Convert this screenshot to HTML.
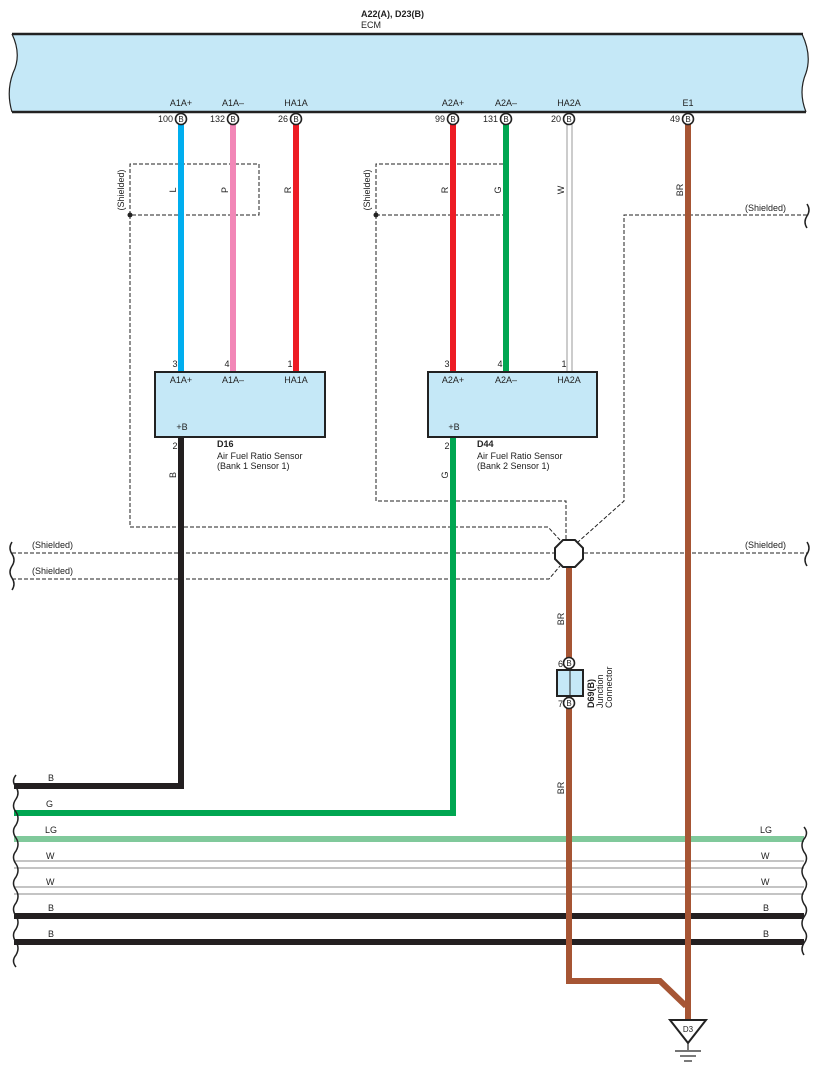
<!DOCTYPE html>
<html><head><meta charset="utf-8"><style>html,body{margin:0;padding:0;background:#fff}svg{display:block}text{font-family:"Liberation Sans",sans-serif;fill:#222}</style></head><body>
<svg width="817" height="1074" viewBox="0 0 817 1074" xmlns="http://www.w3.org/2000/svg">
<!-- ECM -->
<text x="361" y="17" font-size="9" font-weight="bold">A22(A), D23(B)</text>
<text x="361" y="28" font-size="9">ECM</text>
<path d="M12,34 L802,34 Q812,55 806,73 Q798,92 806,112 L12,112 Q6,92 13,73 Q22,55 12,34 Z" fill="#c5e8f7" stroke="none"/>
<line x1="12" y1="34" x2="803" y2="34" stroke="#222" stroke-width="2.5"/>
<line x1="12" y1="112" x2="806" y2="112" stroke="#222" stroke-width="2.5"/>
<path d="M12,34 Q22,55 13,73 Q6,92 12,112 M802,34 Q812,55 806,73 Q798,92 806,112" fill="none" stroke="#222" stroke-width="1.2"/>
<g font-size="9" text-anchor="middle">
<text x="181" y="106">A1A+</text><text x="233" y="106">A1A–</text><text x="296" y="106">HA1A</text>
<text x="453" y="106">A2A+</text><text x="506" y="106">A2A–</text><text x="569" y="106">HA2A</text><text x="688" y="106">E1</text>
</g>
<g font-size="9" text-anchor="end">
<text x="173" y="122">100</text><text x="225" y="122">132</text><text x="288" y="122">26</text>
<text x="445" y="122">99</text><text x="498" y="122">131</text><text x="561" y="122">20</text><text x="680" y="122">49</text>
</g>
<!-- shield dashed -->
<g fill="none" stroke="#222" stroke-width="1" stroke-dasharray="4,2">
<path d="M130,215 L130,164 L259,164 L259,215 L130,215"/>
<path d="M130,215 L130,527 L548,527 L560,540"/>
<path d="M376,215 L376,164 L507,164 L507,215 L376,215"/>
<path d="M376,215 L376,501 L566,501 L566,540"/>
<path d="M807,215 L624,215 L624,501 L578,542"/>
<path d="M12,553 L560,553 M578,553 L807,553"/>
<path d="M12,579 L549,579 L560,566"/>
</g>
<circle cx="130" cy="215" r="2.5" fill="#222"/><circle cx="376" cy="215" r="2.5" fill="#222"/>
<g font-size="9">
<text transform="translate(124,190) rotate(-90)" text-anchor="middle">(Shielded)</text>
<text transform="translate(370,190) rotate(-90)" text-anchor="middle">(Shielded)</text>
<text x="745" y="211">(Shielded)</text><text x="745" y="548">(Shielded)</text>
<text x="32" y="548">(Shielded)</text><text x="32" y="574">(Shielded)</text>
</g>
<!-- horizontal harness -->
<line x1="14" y1="839" x2="804" y2="839" stroke="#80c99b" stroke-width="6"/>
<g stroke="#888" stroke-width="1"><line x1="14" y1="861" x2="804" y2="861"/><line x1="14" y1="868" x2="804" y2="868"/><line x1="14" y1="887" x2="804" y2="887"/><line x1="14" y1="894" x2="804" y2="894"/></g>
<line x1="14" y1="916" x2="804" y2="916" stroke="#231f20" stroke-width="6"/>
<line x1="14" y1="942" x2="804" y2="942" stroke="#231f20" stroke-width="6"/>
<!-- vertical wires -->
<line x1="181" y1="124" x2="181" y2="372" stroke="#00aeef" stroke-width="6"/>
<line x1="233" y1="124" x2="233" y2="372" stroke="#f287b7" stroke-width="6"/>
<line x1="296" y1="124" x2="296" y2="372" stroke="#ed1c24" stroke-width="6"/>
<line x1="453" y1="124" x2="453" y2="372" stroke="#ed1c24" stroke-width="6"/>
<line x1="506" y1="124" x2="506" y2="372" stroke="#00a651" stroke-width="6"/>
<rect x="567" y="124" width="5" height="248" fill="#fff" stroke="#999" stroke-width="1"/>
<path d="M181,437 L181,786 L14,786" fill="none" stroke="#231f20" stroke-width="6"/>
<path d="M453,437 L453,813 L14,813" fill="none" stroke="#00a651" stroke-width="6"/>
<line x1="688" y1="124" x2="688" y2="1022" stroke="#a65534" stroke-width="6"/>
<path d="M569,566 L569,981 L660,981 L686,1006" fill="none" stroke="#a65534" stroke-width="6"/>
<!-- pins -->
<g fill="#fff" stroke="#222" stroke-width="1.6">
<circle cx="181" cy="119" r="5.5"/><circle cx="233" cy="119" r="5.5"/><circle cx="296" cy="119" r="5.5"/><circle cx="453" cy="119" r="5.5"/><circle cx="506" cy="119" r="5.5"/><circle cx="569" cy="119" r="5.5"/><circle cx="688" cy="119" r="5.5"/>
<circle cx="569" cy="663" r="5.5"/><circle cx="569" cy="703" r="5.5"/>
</g>
<g font-size="8" text-anchor="middle">
<text x="181" y="122">B</text><text x="233" y="122">B</text><text x="296" y="122">B</text><text x="453" y="122">B</text><text x="506" y="122">B</text><text x="569" y="122">B</text><text x="688" y="122">B</text>
<text x="569" y="666">B</text><text x="569" y="706">B</text>
</g>
<!-- wire labels -->
<g font-size="9" text-anchor="middle">
<text transform="translate(176,190) rotate(-90)">L</text>
<text transform="translate(228,190) rotate(-90)">P</text>
<text transform="translate(291,190) rotate(-90)">R</text>
<text transform="translate(448,190) rotate(-90)">R</text>
<text transform="translate(501,190) rotate(-90)">G</text>
<text transform="translate(564,190) rotate(-90)">W</text>
<text transform="translate(683,190) rotate(-90)">BR</text>
<text transform="translate(176,475) rotate(-90)">B</text>
<text transform="translate(448,475) rotate(-90)">G</text>
<text transform="translate(564,619) rotate(-90)">BR</text>
<text transform="translate(564,788) rotate(-90)">BR</text>
</g>
<!-- sensors -->
<rect x="155" y="372" width="170" height="65" fill="#c5e8f7" stroke="#222" stroke-width="2"/>
<rect x="428" y="372" width="169" height="65" fill="#c5e8f7" stroke="#222" stroke-width="2"/>
<g font-size="9" text-anchor="middle">
<text x="181" y="383">A1A+</text><text x="233" y="383">A1A–</text><text x="296" y="383">HA1A</text>
<text x="453" y="383">A2A+</text><text x="506" y="383">A2A–</text><text x="569" y="383">HA2A</text>
<text x="182" y="430">+B</text><text x="454" y="430">+B</text>
<text x="175" y="367">3</text><text x="227" y="367">4</text><text x="290" y="367">1</text>
<text x="447" y="367">3</text><text x="500" y="367">4</text><text x="564" y="367">1</text>
<text x="175" y="449">2</text><text x="447" y="449">2</text>
</g>
<g font-size="9">
<text x="217" y="447" font-weight="bold">D16</text><text x="217" y="459">Air Fuel Ratio Sensor</text><text x="217" y="469">(Bank 1 Sensor 1)</text>
<text x="477" y="447" font-weight="bold">D44</text><text x="477" y="459">Air Fuel Ratio Sensor</text><text x="477" y="469">(Bank 2 Sensor 1)</text>
</g>
<!-- octagon -->
<polygon points="563,540 575,540 583,548 583,559 575,567 563,567 555,559 555,548" fill="#fff" stroke="#222" stroke-width="2"/>
<!-- junction connector -->
<rect x="557" y="670" width="26" height="26" fill="#c5e8f7" stroke="#222" stroke-width="2"/>
<line x1="570" y1="670" x2="570" y2="696" stroke="#222" stroke-width="1"/>
<g font-size="9"><text x="563" y="667" text-anchor="end">6</text><text x="563" y="707" text-anchor="end">7</text></g>
<g font-size="9" transform="translate(594,708) rotate(-90)"><text x="0" y="0" font-weight="bold">D69(B)</text><text x="0" y="9">Junction</text><text x="0" y="18">Connector</text></g>
<!-- horizontal labels -->
<g font-size="9">
<text x="48" y="781">B</text><text x="46" y="807">G</text><text x="45" y="833">LG</text><text x="46" y="859">W</text><text x="46" y="885">W</text><text x="48" y="911">B</text><text x="48" y="937">B</text>
<text x="760" y="833">LG</text><text x="761" y="859">W</text><text x="761" y="885">W</text><text x="763" y="911">B</text><text x="763" y="937">B</text>
</g>
<!-- wavy ends -->
<g fill="none" stroke="#222" stroke-width="1.5">
<path d="M16,775 q-5,6 0,12 q4,6 0,12 q-5,7 0,13 q4,6 0,13 q-5,6 0,13 q4,6 0,13 q-5,6 0,13 q4,6 0,13 q-5,6 0,13 q4,6 0,13 q-5,6 0,13 q4,6 0,13 q-5,6 0,13 q4,6 0,13 q-5,6 0,12"/>
<path d="M12,542 q-4,6 0,12 q4,6 0,12 q-4,6 0,12 q4,6 0,12"/>
<path d="M804,827 q5,6 0,12 q-4,6 0,13 q5,6 0,13 q-4,6 0,13 q5,6 0,13 q-4,6 0,13 q5,6 0,13 q-4,6 0,13 q5,6 0,13 q-4,6 0,12"/>
<path d="M807,542 q4,6 0,12 q-4,6 0,12 M807,204 q4,6 0,12 q-4,6 0,12"/>
</g>
<!-- ground -->
<polygon points="670,1020 706,1020 688,1043" fill="#fff" stroke="#222" stroke-width="2"/>
<text x="688" y="1032" font-size="8" text-anchor="middle">D3</text>
<g stroke="#222" stroke-width="1.2"><line x1="688" y1="1043" x2="688" y2="1050"/><line x1="675" y1="1051" x2="701" y2="1051"/><line x1="680" y1="1056" x2="696" y2="1056"/><line x1="684" y1="1061" x2="692" y2="1061"/></g>
</svg>
</body></html>
